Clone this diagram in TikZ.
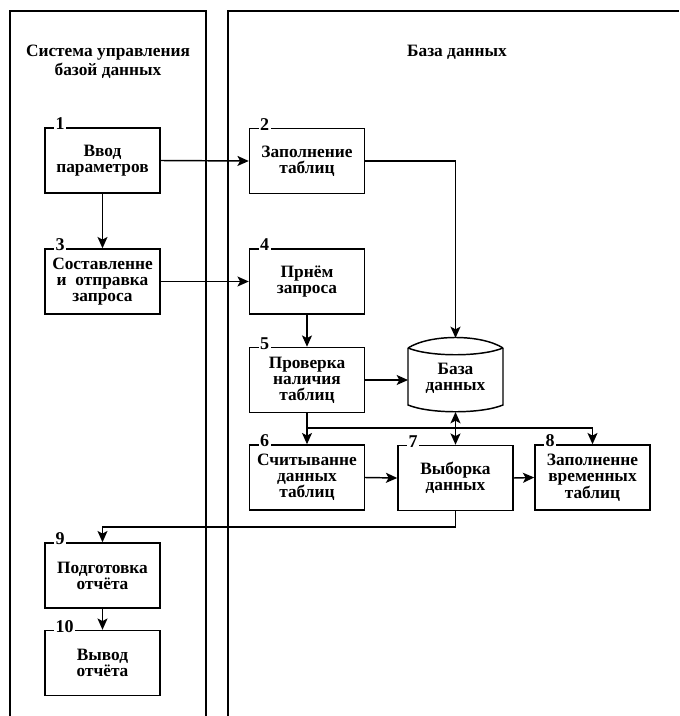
\documentclass[tikz,border=0pt]{standalone}
\usepackage{fontspec}
\setmainfont{Liberation Serif}
\usetikzlibrary{arrows.meta}
\begin{document}
\begin{tikzpicture}[x=0.75pt,y=-0.75pt,
  line width=1.1pt,
  txt/.style={font=\fontsize{13}{12}\selectfont\bfseries, align=center},
  box/.style={draw, txt, minimum width=86.25pt, minimum height=48.75pt, inner sep=1pt},
  num/.style={fill=white, font=\fontsize{13.5}{13.5}\selectfont\bfseries, inner sep=1pt, anchor=base west},
  arr/.style={-{Stealth[length=8.5pt,width=7.5pt,inset=2pt]}},
  darr/.style={{Stealth[length=8.5pt,width=7.5pt,inset=2pt]}-{Stealth[length=8.5pt,width=7.5pt,inset=2pt]}}]
\useasboundingbox (0,0) rectangle (679,716);

% swimlanes
\draw (10,716) -- (10,11) -- (206,11) -- (206,716);
\draw (228,716) -- (228,11) -- (679,11);
\node[txt, font=\fontsize{13}{14}\selectfont\bfseries] (laneA) at (108,62) {Система управления\\базой данных};
\node[txt] (laneB) at (457,52) {База данных};

% process boxes
\node[box] (b1) at (102.5,160.5) {Ввод\\параметров};
\node[box] (b2) at (307,161) {Заполнение\\таблиц};
\node[box] (b3) at (102.5,281.5) {Составленне\\и\ \ отправка\\запроса};
\node[box] (b4) at (307,281.5) {Прнём\\запроса};
\node[box] (b5) at (307,380) {Проверка\\наличия\\таблиц};
\node[box] (b6) at (307,477.5) {Считыванне\\данных\\таблиц};
\node[box] (b7) at (455.5,478) {Выборка\\данных};
\node[box] (b8) at (592.5,477.5) {Заполненне\\временных\\таблиц};
\node[box] (b9) at (102.5,575.5) {Подготовка\\отчёта};
\node[box] (b10) at (102.5,663) {Вывод\\отчёта};

% box numbers sitting on the top edges
\foreach \b/\n in {b1/1,b2/2,b3/3,b4/4,b5/5,b6/6,b7/7,b8/8,b9/9,b10/10}
  \node[num] (n\b) at ([xshift=7pt,yshift=-2pt]\b.north west) {\n};

% database cylinder
\draw (408,348) -- (408,405) .. controls (430,414) and (481,414) .. (503,405) -- (503,348);
\draw (408,348) .. controls (430,334) and (481,334) .. (503,348);
\draw (408,348) .. controls (430,357) and (481,357) .. (503,348);
\node[txt] (db) at (455.5,378) {База\\данных};
\coordinate (dbtop) at (455.5,338);
\coordinate (dbbot) at (455.5,412);
\coordinate (dbleft) at (408,380);

% connectors
\draw[arr] (b1.east) -- (b2.west);
\draw[arr] (b1.south) -- (b3.north);
\draw[arr] (b3.east) -- (b4.west);
\draw[arr] (b2.east) -| (dbtop);
\draw[arr] (b4.south) -- (b5.north);
\draw[arr] (b5.east) -- (dbleft);
\draw[arr] (b5.south) -- (b6.north);
\coordinate (split) at (307,428);
\draw[arr] (split) -| (b8.north);
\draw[darr] (dbbot) -- (b7.north);
\draw[arr] (b6.east) -- (b7.west);
\draw[arr] (b7.east) -- (b8.west);
\coordinate (turn) at (455.5,527);
\draw[arr] (b7.south) -- (turn) -| (b9.north);
\draw[arr] (b9.south) -- (b10.north);
\end{tikzpicture}
\end{document}
